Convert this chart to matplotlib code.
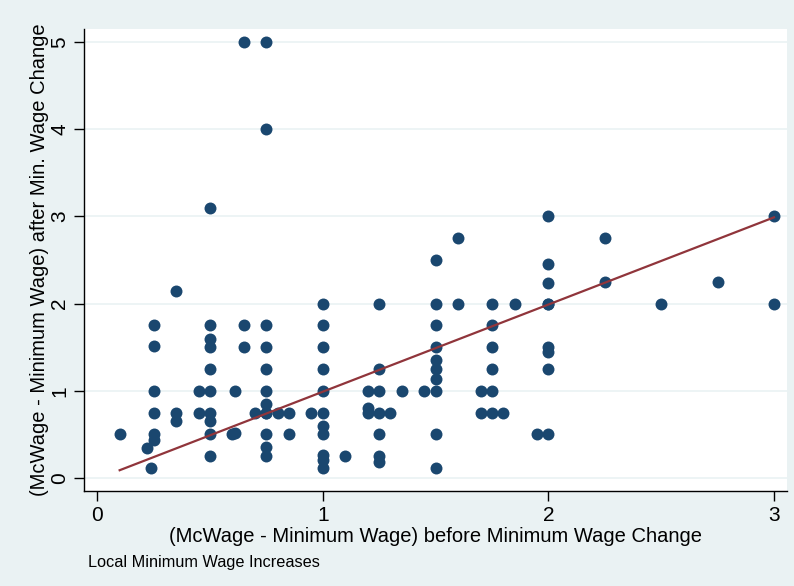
import numpy as np
import matplotlib
matplotlib.use("Agg")
import matplotlib.pyplot as plt

# (McWage - Minimum Wage) before / after the minimum wage change
x_before = [0.10, 0.22, 0.24, 0.25, 0.25, 0.25, 0.25, 0.25, 0.25,
            0.35, 0.35, 0.35, 0.45, 0.45,
            0.50, 0.50, 0.50, 0.50, 0.50, 0.50, 0.50, 0.50, 0.50, 0.50,
            0.60, 0.61, 0.61, 0.65, 0.65, 0.65, 0.70,
            0.75, 0.75, 0.75, 0.75, 0.75, 0.75, 0.75, 0.75, 0.75, 0.75, 0.75, 0.75,
            0.80, 0.85, 0.85, 0.95,
            1.00, 1.00, 1.00, 1.00, 1.00, 1.00, 1.00, 1.00, 1.00, 1.00, 1.00,
            1.10, 1.20, 1.20, 1.20,
            1.25, 1.25, 1.25, 1.25, 1.25, 1.25, 1.25, 1.30, 1.35, 1.45,
            1.50, 1.50, 1.50, 1.50, 1.50, 1.50, 1.50, 1.50, 1.50, 1.50,
            1.60, 1.60, 1.70, 1.70,
            1.75, 1.75, 1.75, 1.75, 1.75, 1.75, 1.80, 1.85, 1.95,
            2.00, 2.00, 2.00, 2.00, 2.00, 2.00, 2.00, 2.00, 2.00,
            2.25, 2.25, 2.50, 2.75, 3.00, 3.00]
y_after = [0.50, 0.35, 0.11, 1.75, 1.52, 1.00, 0.75, 0.50, 0.44,
           2.15, 0.75, 0.65, 1.00, 0.75,
           3.10, 1.75, 1.60, 1.50, 1.25, 1.00, 0.75, 0.65, 0.50, 0.25,
           0.50, 0.52, 1.00, 5.00, 1.75, 1.50, 0.75,
           5.00, 4.00, 1.75, 1.50, 1.25, 1.00, 0.85, 0.75, 0.50, 0.36, 0.25, 0.75,
           0.75, 0.75, 0.50, 0.75,
           2.00, 1.75, 1.50, 1.25, 1.00, 0.75, 0.60, 0.50, 0.26, 0.21, 0.11,
           0.25, 1.00, 0.80, 0.75,
           2.00, 1.25, 1.00, 0.75, 0.50, 0.25, 0.19, 0.75, 1.00, 1.00,
           2.50, 2.00, 1.75, 1.50, 1.35, 1.25, 1.14, 1.00, 0.50, 0.11,
           2.75, 2.00, 1.00, 0.75,
           2.00, 1.75, 1.50, 1.25, 1.00, 0.75, 0.75, 2.00, 0.50,
           3.00, 2.45, 2.24, 2.00, 1.50, 1.45, 1.25, 0.50, 2.00,
           2.75, 2.25, 2.00, 2.25, 3.00, 2.00]

# fitted line (intercept, slope)
fit_coef = [-0.01, 1.0]

x_ticks = [0, 1, 2, 3]
y_ticks = [0, 1, 2, 3, 4, 5]

bg = "#EAF2F3"
navy = "#1A476F"
maroon = "#90353B"

plt.rcParams["font.family"] = ["Liberation Sans Narrow", "Liberation Sans", "DejaVu Sans"]

fig = plt.figure(figsize=(7.94, 5.86), dpi=100, facecolor=bg)
ax = fig.add_axes([0.1058, 0.162, 0.8852, 0.7885])
ax.set_facecolor("white")

ax.scatter(x_before, y_after, s=74, color=navy, linewidths=0, zorder=3)

xs = np.array([min(x_before), max(x_before)])
ax.plot(xs, fit_coef[0] + fit_coef[1] * xs, color=maroon, lw=1.6, zorder=4)

ax.set_xlim(-0.058, 3.057)
ax.set_ylim(-0.149, 5.15)
ax.set_xticks(x_ticks)
ax.set_yticks(y_ticks)
ax.grid(axis="y", color=bg, lw=1.2, zorder=0)

for side in ["top", "right"]:
    ax.spines[side].set_visible(False)
for side in ["left", "bottom"]:
    ax.spines[side].set_color("black")
    ax.spines[side].set_linewidth(1.0)

ax.tick_params(axis="both", length=7, width=1.0, labelsize=15, direction="out")
for lab in ax.get_yticklabels():
    lab.set_rotation(90)
    lab.set_va("center")

ax.set_xlabel("(McWage - Minimum Wage) before Minimum Wage Change", fontsize=14.5, labelpad=2)
ax.set_ylabel("(McWage - Minimum Wage) after Min. Wage Change", fontsize=14.5, labelpad=1)

fig.text(88 / 794, 1 - 562 / 586, "Local Minimum Wage Increases", fontsize=11.7, va="center", ha="left")

fig.savefig("out.png", dpi=100, facecolor=bg)
